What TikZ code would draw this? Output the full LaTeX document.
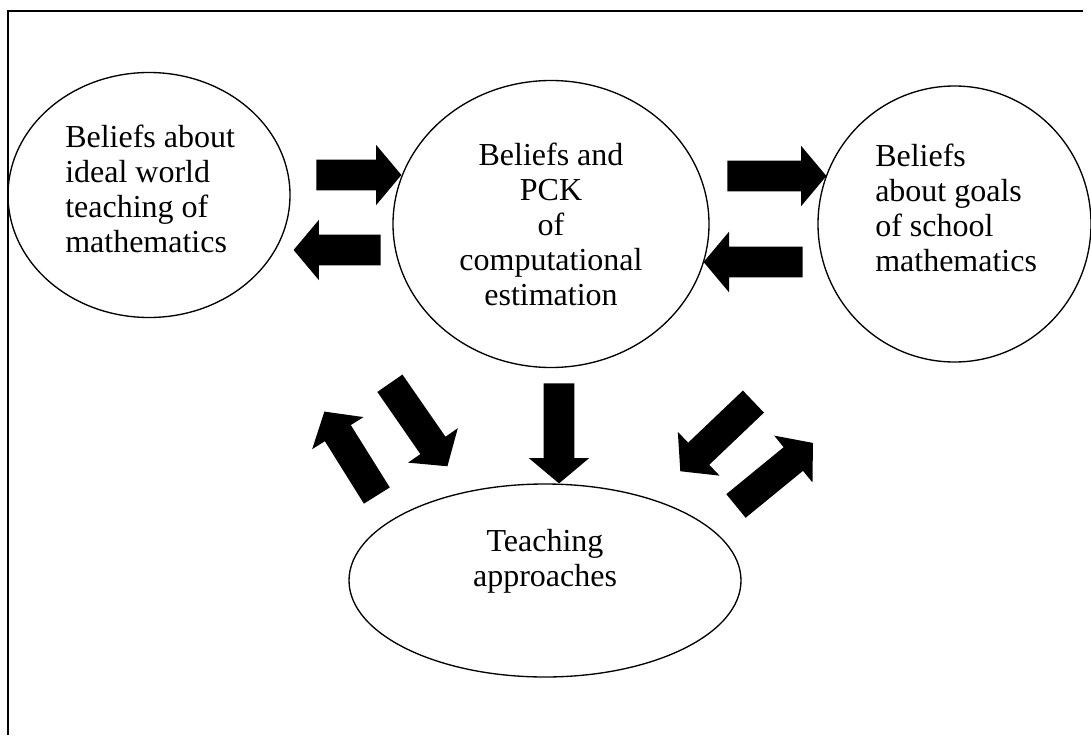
\documentclass[tikz,border=0pt]{standalone}
\usepackage{fontspec}
\setmainfont{Liberation Serif}
\usetikzlibrary{shapes.geometric, shapes.arrows}

\tikzset{
  belief/.style={draw, ellipse, line width=1pt, inner sep=0pt},
  txt/.style={inner sep=0pt, font=\fontsize{24}{26.25}\selectfont},
  blockarrow/.style={single arrow, fill=black, draw=none, inner sep=0pt,
    text height=22.5pt, text depth=0pt, text width=0pt,
    single arrow head extend=11.25pt, single arrow tip angle=100}
}

\begin{document}
\begin{tikzpicture}[x=0.75pt, y=-0.75pt]
            \useasboundingbox (0,0) rectangle (1091,735);
            \draw[line width=1.3pt] (8,735) |- (1083,11);
            % the four ellipses
            \node[belief, minimum width=211.5pt, minimum height=183.75pt] (ideal) at (149,195) {};
            \node[belief, minimum width=237pt, minimum height=215.25pt] (pck) at (551,224) {};
            \node[belief, minimum width=204.75pt, minimum height=207pt] (goals) at (954.5,224) {};
            \node[belief, minimum width=294pt, minimum height=144.75pt] (approach) at (545,580.5) {};
            \node[txt, align=left, anchor=north west] (idealtext) at (65,125) {Beliefs about\\ideal world\\teaching of\\mathematics};
            \node[txt, align=center, anchor=north] (pcktext) at (551,143) {Beliefs and\\PCK\\of\\computational\\estimation};
            \node[txt, align=left, anchor=north west] (goalstext) at (875,144) {Beliefs\\about goals\\of school\\mathematics};
            \node[txt, align=center, anchor=north] (approachtext) at (545,529) {Teaching\\approaches};
            % block arrows
            \node[blockarrow, minimum height={85*0.75pt}] (idealtopck) at (352.5,175) {};
            \node[blockarrow, minimum height={87*0.75pt}, rotate=180] (pcktoideal) at (343.5,250) {};
            \node[blockarrow, minimum height={99*0.75pt}] (pcktogoals) at (770.5,176) {};
            \node[blockarrow, minimum height={99*0.75pt}, rotate=180] (goalstopck) at (759.5,262) {};
            \node[blockarrow, minimum height={100*0.75pt}, rotate=-90] (pcktoapproach) at (559,427) {};
            \node[blockarrow, minimum height={101*0.75pt}, rotate=-55.3] (idealtoapproach) at (415,419.5) {};
            \node[blockarrow, minimum height={99*0.75pt}, rotate=122] (approachtoideal) at (354,459) {};
            \node[blockarrow, minimum height={101*0.75pt}, rotate=223.6] (goalstoapproach) at (721.5,432) {};
            \node[blockarrow, minimum height={99.5*0.75pt}, rotate=39.3] (approachtogoals) at (769.5,478.5) {};
        \end{tikzpicture}
\end{document}
